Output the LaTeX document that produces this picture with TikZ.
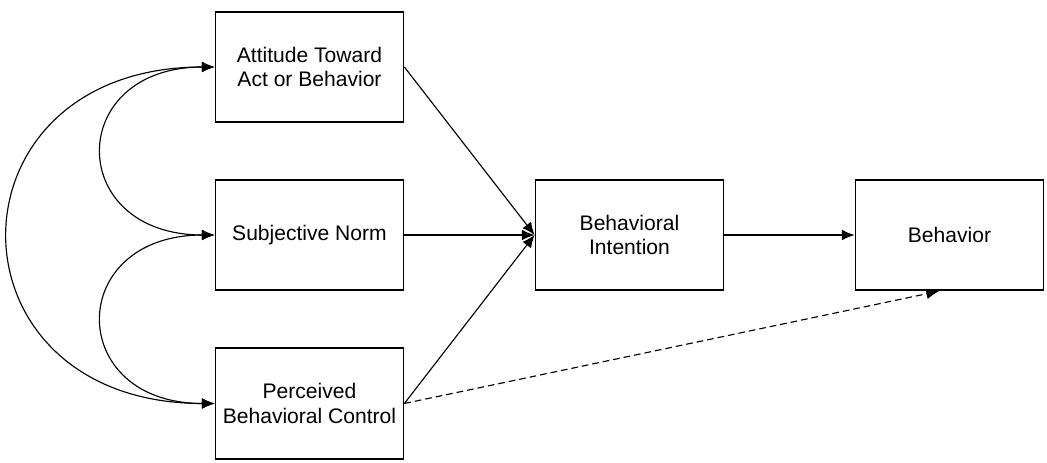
\documentclass[tikz,border=0pt]{standalone}
\usepackage{fontspec}
\setmainfont{Liberation Sans}
\usetikzlibrary{arrows.meta}
\begin{document}
\begin{tikzpicture}[x=0.75pt,y=-0.75pt,
  box/.style={draw, line width=1.3pt, minimum width=141pt, minimum height=83pt,
    align=center, inner sep=0pt, font=\fontsize{15.8}{18.5}\selectfont},
  conn/.style={line width=0.85pt, -{Latex[length=9.5pt,width=8pt]}},
  curve/.style={line width=0.85pt, {Latex[length=9.5pt,width=8pt]}-{Latex[length=9.5pt,width=8pt]}},
  dashconn/.style={conn, dash pattern=on 5pt off 3pt}]
\useasboundingbox (0,0) rectangle (1047,463);
\node[box] (att) at (309.5,67) {Attitude Toward\\Act or Behavior};
\node[box] (sn)  at (309.5,235) {Subjective Norm};
\node[box] (pbc) at (309.5,403.5) {Perceived\\Behavioral Control};
\node[box] (bi)  at (629.5,235) {Behavioral\\Intention};
\node[box] (beh) at (949.5,235) {Behavior};
\coordinate (behin) at ([xshift=-7.9pt]beh.south);
\draw[curve] (att.west) .. controls (-60,67) and (-60,403.5) .. (pbc.west);
\draw[curve] (att.west) .. controls (65,67) and (65,235) .. (sn.west);
\draw[curve] (sn.west) .. controls (65,235) and (65,403.5) .. (pbc.west);
\draw[conn] (att.east) -- (bi.west);
\draw[conn] (sn.east) -- (bi.west);
\draw[conn] (pbc.east) -- (bi.west);
\draw[conn] (bi.east) -- (beh.west);
\draw[dashconn] (pbc.east) -- (behin);
\end{tikzpicture}
\end{document}
